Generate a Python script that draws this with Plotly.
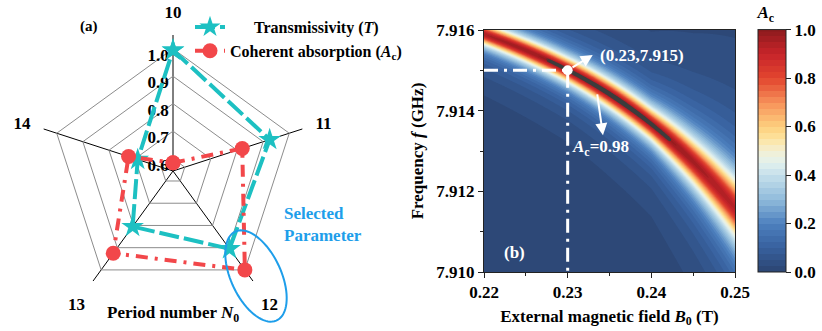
import numpy as np
import plotly.graph_objects as go

W, H = 822, 331
FONT = "Liberation Serif"

# ---------------- Panel (a): radar data ----------------
periods = ["10", "11", "12", "13", "14"]
transmissivity = [0.995, 0.925, 0.905, 0.805, 0.69]
coherent_abs = [0.585, 0.82, 1.0, 0.925, 0.725]
radial_ticks = [0.6, 0.7, 0.8, 0.9, 1.0]
radial_range = [0.555, 1.05]

# ---------------- Panel (b): absorption map data ----------------
band_B = [0.22, 0.23, 0.24, 0.245, 0.25]          # T
band_f0 = [7.9159, 7.9150, 7.9137, 7.9127, 7.9116]  # GHz, ridge of maximum A_c
band_width = [0.00025, 0.00029, 0.00037, 0.00052, 0.00070]  # GHz half width
peak_B = [0.22, 0.228, 0.236, 0.242, 0.25]
peak_Ac = [0.95, 0.982, 0.99, 0.982, 0.93]
sel_B, sel_f = 0.23, 7.915
B_ticks = [0.22, 0.23, 0.24, 0.25]
f_ticks = [7.910, 7.912, 7.914, 7.916]
cbar_ticks = [0.0, 0.2, 0.4, 0.6, 0.8, 1.0]

cyan = "#1DC0C2"
red = "#F2474A"
azure = "#1E9EEA"

colorscale = [
    [0.0, "#2B4571"], [0.1, "#37609E"], [0.2, "#4D80BE"], [0.3, "#8FBADB"],
    [0.4, "#C5E0EB"], [0.45, "#E3F1EE"], [0.5, "#F3EFD3"], [0.55, "#FDE4A0"],
    [0.6, "#FDD07E"], [0.7, "#F7925A"], [0.8, "#E2452F"], [0.9, "#C7242A"],
    [1.0, "#8E1B1E"],
]

# build the A_c field from the ridge description
Bg = np.linspace(B_ticks[0], B_ticks[-1], 301)
fg = np.linspace(f_ticks[0], f_ticks[-1], 301)
coef = np.polyfit(band_B, band_f0, 3)
f0 = np.polyval(coef, Bg)
wf = np.interp(Bg, band_B, band_width)
amp = np.interp(Bg, peak_B, peak_Ac)
Z = amp[None, :] / (1.0 + ((fg[:, None] - f0[None, :]) / wf[None, :]) ** 2)

fig = go.Figure()

# radial tick labels (drawn first so data sits on top)
fig.add_trace(go.Scatterpolar(
    r=[v - 0.029 for v in radial_ticks], theta=[periods[0]] * len(radial_ticks),
    mode="text", text=[f"{v:.1f}&nbsp;" for v in radial_ticks],
    textposition="middle left",
    textfont=dict(family=FONT, size=17, color="black", weight="bold"),
    showlegend=False, hoverinfo="skip", cliponaxis=False,
))

fig.add_trace(go.Scatterpolar(
    r=transmissivity + transmissivity[:1], theta=periods + periods[:1],
    mode="lines+markers", name="&nbsp;" * 6 + "Transmissivity (<i>T</i>)",
    line=dict(color=cyan, width=4, dash="20px,5px"),
    marker=dict(symbol="star", size=17, color=cyan, line=dict(width=0)),
    cliponaxis=False,
))
fig.add_trace(go.Scatterpolar(
    r=coherent_abs + coherent_abs[:1], theta=periods + periods[:1],
    mode="lines+markers", name="Coherent absorption (<i>A</i><sub>c</sub>)",
    line=dict(color=red, width=4, dash="12px,7px,3px,7px"),
    marker=dict(symbol="circle", size=15, color=red, line=dict(width=0)),
    cliponaxis=False,
))

# ---------------- heatmap ----------------
fig.add_trace(go.Contour(
    x=Bg, y=fg, z=Z, xaxis="x", yaxis="y", showlegend=False,
    colorscale=colorscale, zmin=0, zmax=1, autocontour=False,
    contours=dict(start=0, end=1, size=0.025, coloring="fill", showlines=False),
    line=dict(width=0), hoverinfo="skip",
    colorbar=dict(
        x=758 / W, xanchor="left", xpad=0, y=1 - 137.5 / H, yanchor="middle", ypad=0,
        thickness=28, thicknessmode="pixels", len=269, lenmode="pixels",
        outlinecolor="#222", outlinewidth=1,
        tickvals=cbar_ticks, tickformat=".1f", ticks="outside", ticklen=5,
        tickcolor="#222",
        tickfont=dict(family=FONT, size=17, color="black", weight="bold"),
        title=dict(text="<i>A</i><sub>c</sub>", side="top",
                   font=dict(family=FONT, size=17, color="black", weight="bold")),
    ),
))
fig.add_trace(go.Contour(
    x=Bg, y=fg, z=Z, xaxis="x", yaxis="y", showscale=False, autocontour=False,
    showlegend=False,
    contours=dict(start=0.98, end=0.98, size=0.01, coloring="none"),
    line=dict(color="#3c3c3c", width=2.5), hoverinfo="skip",
))

# guide lines to selected point
fig.add_trace(go.Scatter(
    x=[B_ticks[0], sel_B, sel_B], y=[sel_f, sel_f, f_ticks[0]],
    mode="lines", line=dict(color="white", width=3, dash="14px,6px,3px,6px"),
    showlegend=False, hoverinfo="skip", xaxis="x", yaxis="y",
))
fig.add_trace(go.Scatter(
    x=[sel_B], y=[sel_f], mode="markers",
    marker=dict(color="white", size=10), showlegend=False,
    hoverinfo="skip", xaxis="x", yaxis="y",
))

# ellipse marking the selected parameter (pixel geometry -> paper)
t = np.linspace(0, 2 * np.pi, 80)
a_ax, b_ax, th = 49.0, 25.0, np.deg2rad(25)
cx, cy = 256.0, 276.0
px = cx + b_ax * np.cos(t) * np.cos(th) + a_ax * np.sin(t) * np.sin(th)
py = cy - b_ax * np.cos(t) * np.sin(th) + a_ax * np.sin(t) * np.cos(th)
path = "M " + " L ".join(f"{x / W:.5f},{1 - y / H:.5f}" for x, y in zip(px, py)) + " Z"

ann_font = dict(family=FONT, size=17, color="black", weight="bold")
white_font = dict(family=FONT, size=17, color="white", weight="bold")

annotations = [
    dict(text="(a)", x=89 / W, y=1 - 26 / H, xref="paper", yref="paper",
         xanchor="center", yanchor="middle", showarrow=False,
         font=dict(family=FONT, size=15, color="black", weight="bold")),
    dict(text="Period number <i>N</i><sub>0</sub>", x=173 / W, y=1 - 314 / H,
         xref="paper", yref="paper", xanchor="center", yanchor="middle",
         showarrow=False, font=ann_font),
    dict(text="Selected<br>Parameter", x=282 / W, y=1 - 247 / H, xref="paper",
         yref="paper", showarrow=False, xanchor="left", align="left",
         font=dict(family=FONT, size=17, color=azure, weight="bold")),
    # panel b
    dict(text="(b)", x=0.2222, y=7.9102, xref="x", yref="y", xanchor="left",
         yanchor="bottom", showarrow=False, font=white_font),
    dict(text="", x=0.2330, y=7.91538, xref="x", yref="y", ax=sel_B + 0.0004,
         ay=sel_f + 0.00005, axref="x", ayref="y", showarrow=True, arrowhead=2,
         arrowsize=1.2, arrowwidth=2, arrowcolor="white", standoff=0),
    dict(text="(0.23,7.915)", x=0.2336, y=7.91538, xref="x", yref="y",
         xanchor="left", showarrow=False, font=white_font),
    dict(text="", x=0.23422, y=7.91339, xref="x", yref="y", ax=0.23351,
         ay=7.91444, axref="x", ayref="y", showarrow=True, arrowhead=2,
         arrowsize=1.2, arrowwidth=2, arrowcolor="white", standoff=0),
    dict(text="<i>A</i><sub>c</sub>=0.98", x=0.2339, y=7.91308, xref="x", yref="y",
         showarrow=False, font=white_font),
]

axis_font = dict(family=FONT, size=17, color="black", weight="bold")
fig.update_layout(
    width=W, height=H, margin=dict(l=0, r=0, t=0, b=0, autoexpand=False),
    paper_bgcolor="white", plot_bgcolor="white",
    showlegend=True,
    legend=dict(x=190 / W, y=1 - 10 / H, xanchor="left", yanchor="top",
                font=dict(family=FONT, size=16, color="black", weight="bold"),
                bgcolor="rgba(0,0,0,0)", tracegroupgap=0, itemwidth=30),
    polar=dict(
        domain=dict(x=[37 / W, 309 / W], y=[24 / H, 296 / H]),
        gridshape="linear", bgcolor="rgba(0,0,0,0)",
        radialaxis=dict(range=radial_range, tickvals=radial_ticks,
                        showticklabels=False, ticks="", showline=False,
                        gridcolor="#8c8c8c", gridwidth=1, angle=90),
        angularaxis=dict(type="category", categoryarray=periods, rotation=90,
                         direction="clockwise", showline=False,
                         gridcolor="black", gridwidth=1, ticks="outside",
                         ticklen=10, tickcolor="rgba(0,0,0,0)",
                         tickfont=axis_font),
    ),
    xaxis=dict(domain=[484 / W, 735 / W], range=[B_ticks[0], B_ticks[-1]],
               tickvals=B_ticks, tickformat=".2f", ticks="outside", ticklen=5,
               tickcolor="#222", showline=True, linecolor="#222", mirror=True,
               showgrid=False, zeroline=False, tickfont=axis_font,
               minor=dict(dtick=0.005, ticks="outside", ticklen=3, tickcolor="#222"),
               title=dict(text="External magnetic field <i>B</i><sub>0</sub> (T)",
                          font=axis_font, standoff=8),
               anchor="y"),
    yaxis=dict(domain=[1 - 272 / H, 1 - 30 / H], range=[f_ticks[0], f_ticks[-1]],
               tickvals=f_ticks, tickformat=".3f", ticks="outside", ticklen=5,
               tickcolor="#222", showline=True, linecolor="#222", mirror=True,
               showgrid=False, zeroline=False, tickfont=axis_font,
               minor=dict(dtick=0.001, ticks="outside", ticklen=3, tickcolor="#222"),
               title=dict(text="Frequency <i>f</i> (GHz)", font=axis_font, standoff=8),
               anchor="x"),
    shapes=[dict(type="path", path=path, xref="paper", yref="paper",
                 line=dict(color=azure, width=2), fillcolor="rgba(0,0,0,0)")],
    annotations=annotations,
)

fig.write_html("out.html")
